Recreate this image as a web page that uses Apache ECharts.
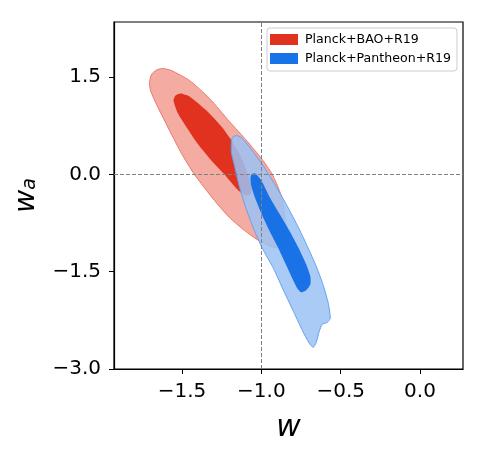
<!DOCTYPE html>
<html>
<head>
<meta charset="utf-8">
<script src="https://cdn.jsdelivr.net/npm/echarts@6/dist/echarts.min.js"></script>
<style>
  html, body { margin: 0; padding: 0; background: #fff; }
  #chart { width: 486px; height: 460px; }
</style>
</head>
<body>
<div id="chart"></div>
<script>
// contour outlines, [w, wa]
var baoOuter = [
    [-1.705, 1.418], [-1.693, 1.541], [-1.661, 1.610], [-1.623, 1.633], [-1.567, 1.602],
    [-1.453, 1.448], [-1.327, 1.171], [-1.202, 0.817], [-1.088, 0.508], [-1.000, 0.247],
    [-0.931, 0.000], [-0.880, -0.293], [-0.855, -0.586], [-0.846, -0.894], [-0.846, -1.063],
    [-0.862, -1.125], [-0.931, -1.117], [-1.013, -1.025], [-1.107, -0.863], [-1.202, -0.663],
    [-1.296, -0.401], [-1.422, 0.000], [-1.504, 0.324], [-1.579, 0.678], [-1.661, 1.079],
    [-1.699, 1.294]
];
var baoInner = [
    [-1.554, 1.140], [-1.542, 1.217], [-1.510, 1.248], [-1.453, 1.202], [-1.346, 0.986],
    [-1.252, 0.740], [-1.183, 0.508], [-1.126, 0.262], [-1.088, 0.015], [-1.063, -0.185],
    [-1.069, -0.308], [-1.101, -0.324], [-1.151, -0.231], [-1.227, -0.015], [-1.315, 0.216],
    [-1.403, 0.478], [-1.479, 0.755], [-1.529, 0.955]
];
var pantheonOuter = [
    [-1.189, 0.493], [-1.183, 0.570], [-1.157, 0.601], [-1.120, 0.555], [-1.063, 0.385],
    [-0.994, 0.154], [-0.918, -0.139], [-0.843, -0.462], [-0.773, -0.786], [-0.710, -1.109],
    [-0.654, -1.418], [-0.610, -1.710], [-0.578, -1.988], [-0.566, -2.219], [-0.584, -2.280],
    [-0.616, -2.311], [-0.635, -2.419], [-0.654, -2.589], [-0.673, -2.666], [-0.698, -2.604],
    [-0.742, -2.404], [-0.792, -2.142], [-0.855, -1.818], [-0.924, -1.448], [-0.994, -1.140],
    [-1.050, -0.832], [-1.101, -0.493], [-1.139, -0.185], [-1.170, 0.139], [-1.189, 0.339]
];
var pantheonInner = [
    [-1.069, -0.062], [-1.063, 0.000], [-1.038, 0.015], [-1.000, -0.092], [-0.950, -0.339],
    [-0.887, -0.601], [-0.824, -0.863], [-0.767, -1.125], [-0.717, -1.387], [-0.691, -1.572],
    [-0.691, -1.695], [-0.717, -1.787], [-0.748, -1.818], [-0.773, -1.757], [-0.811, -1.572],
    [-0.849, -1.371], [-0.899, -1.109], [-0.950, -0.863], [-1.000, -0.601], [-1.038, -0.370],
    [-1.063, -0.185]
];

var seriesNames = ['Planck+BAO+R19', 'Planck+Pantheon+R19'];
var xTicks = [-1.5, -1.0, -0.5, 0.0];
var yTicks = [-3.0, -1.5, 0.0, 1.5];

var RED = '#e0321f', BLUE = '#1673e8';
var FONT = 'DejaVu Sans';

function fmt(v) {
    return v.toFixed(1).replace('-', '\u2212');
}

function contours(outer, inner, outerStyle, innerStyle) {
    return function(params, api) {
        var px = function(p) { return api.coord(p); };
        return {
            type: 'group',
            children: [
                { type: 'polygon', shape: { points: outer.map(px), smooth: 0.2 }, style: outerStyle },
                { type: 'polygon', shape: { points: inner.map(px), smooth: 0.2 }, style: innerStyle }
            ]
        };
    };
}

var myChart = echarts.init(document.getElementById('chart'), null, { renderer: 'canvas' });

var option = {
    animation: false,
    backgroundColor: '#fff',
    grid: {
        left: 114, right: 23, top: 22, bottom: 91,
        show: true, borderColor: '#000', borderWidth: 1.2, backgroundColor: 'transparent'
    },
    legend: {
        orient: 'vertical',
        left: 267, top: 28,
        padding: [5, 6, 6, 3],
        itemWidth: 28, itemHeight: 11, itemGap: 6,
        borderColor: '#ccc', borderWidth: 1, borderRadius: 3,
        backgroundColor: 'rgba(255,255,255,0.8)',
        textStyle: { fontFamily: FONT, fontSize: 12.6, color: '#000', padding: [0, 0, 0, 2] },
        data: [
            { name: seriesNames[0], icon: 'rect', itemStyle: { color: RED } },
            { name: seriesNames[1], icon: 'rect', itemStyle: { color: BLUE } }
        ]
    },
    xAxis: {
        type: 'value',
        min: -1.929, max: 0.271,
        name: 'w',
        nameLocation: 'middle',
        nameGap: 44,
        nameTextStyle: { fontFamily: FONT, fontSize: 30, fontStyle: 'italic', color: '#000' },
        axisLine: { show: true, onZero: false, lineStyle: { color: '#000', width: 1.2 } },
        axisTick: { show: true, length: 5, customValues: xTicks, lineStyle: { color: '#000', width: 1 } },
        axisLabel: {
            customValues: xTicks, margin: 13,
            fontFamily: FONT, fontSize: 20, color: '#000',
            formatter: fmt
        },
        splitLine: { show: false }
    },
    yAxis: {
        type: 'value',
        min: -3.0, max: 2.35,
        name: '{w|w}{a|a}',
        nameLocation: 'middle',
        nameGap: 67,
        nameRotate: 90,
        nameTextStyle: {
            color: '#000',
            rich: {
                w: { fontFamily: FONT, fontSize: 28, fontStyle: 'italic', color: '#000', padding: [0, 0, 6, 0] },
                a: { fontFamily: FONT, fontSize: 19, fontStyle: 'italic', color: '#000' }
            }
        },
        axisLine: { show: true, onZero: false, lineStyle: { color: '#000', width: 1.2 } },
        axisTick: { show: true, length: 5, customValues: yTicks, lineStyle: { color: '#000', width: 1 } },
        axisLabel: {
            customValues: yTicks, margin: 13,
            fontFamily: FONT, fontSize: 20, color: '#000',
            formatter: fmt
        },
        splitLine: { show: false }
    },
    series: [
        {
            name: seriesNames[0],
            type: 'custom',
            itemStyle: { color: RED },
            data: [baoOuter[0]],
            renderItem: contours(baoOuter, baoInner,
                { fill: '#f4aba1', stroke: '#ea7a6d', lineWidth: 1 },
                { fill: RED })
        },
        {
            name: seriesNames[1],
            type: 'custom',
            itemStyle: { color: BLUE },
            data: [pantheonOuter[0]],
            renderItem: contours(pantheonOuter, pantheonInner,
                { fill: 'rgba(155,194,244,0.85)', stroke: '#62a2ee', lineWidth: 1 },
                { fill: 'rgba(5,103,229,0.88)' })
        },
        {
            name: 'ref',
            type: 'line',
            data: [],
            z: 10,
            markLine: {
                silent: true,
                symbol: 'none',
                label: { show: false },
                lineStyle: { color: '#808080', type: [4, 2], width: 1 },
                data: [{ xAxis: -1.0 }, { yAxis: 0.0 }]
            }
        }
    ]
};

myChart.setOption(option);
</script>
</body>
</html>
